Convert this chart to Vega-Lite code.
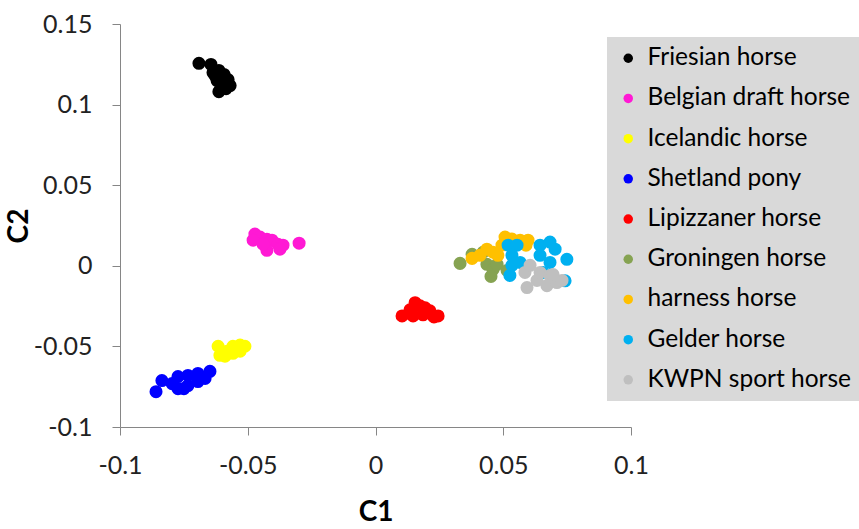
{
  "$schema": "https://vega.github.io/schema/vega-lite/v6.json",
  "width": 511,
  "height": 403,
  "autosize": {"type": "none"},
  "padding": {"left": 120, "top": 24, "right": 228, "bottom": 102},
  "background": "white",
  "config": {
    "view": {"stroke": null},
    "font": "Lato",
    "axis": {
      "grid": false,
      "domainColor": "#868686",
      "tickColor": "#868686",
      "tickSize": 8,
      "labelFont": "Lato",
      "labelFontSize": 25,
      "labelColor": "#222222",
      "titleFont": "Lato",
      "titleFontSize": 28,
      "titleFontWeight": "bold",
      "titleColor": "#000000"
    },
    "legend": {
      "labelFont": "Lato",
      "labelFontSize": 24.5,
      "labelColor": "#000000",
      "labelLimit": 400
    }
  },
  "data": {
    "values": [
      {"C1": -0.0691, "C2": 0.1256, "breed": "Friesian horse"},
      {"C1": -0.0644, "C2": 0.1249, "breed": "Friesian horse"},
      {"C1": -0.0636, "C2": 0.1199, "breed": "Friesian horse"},
      {"C1": -0.0613, "C2": 0.1212, "breed": "Friesian horse"},
      {"C1": -0.0620, "C2": 0.1149, "breed": "Friesian horse"},
      {"C1": -0.0593, "C2": 0.1187, "breed": "Friesian horse"},
      {"C1": -0.0577, "C2": 0.1155, "breed": "Friesian horse"},
      {"C1": -0.0569, "C2": 0.1118, "breed": "Friesian horse"},
      {"C1": -0.0601, "C2": 0.1118, "breed": "Friesian horse"},
      {"C1": -0.0613, "C2": 0.1080, "breed": "Friesian horse"},
      {"C1": -0.0585, "C2": 0.1099, "breed": "Friesian horse"},
      {"C1": -0.0628, "C2": 0.1180, "breed": "Friesian horse"},

      {"C1": -0.0472, "C2": 0.0197, "breed": "Belgian draft horse"},
      {"C1": -0.0452, "C2": 0.0178, "breed": "Belgian draft horse"},
      {"C1": -0.0425, "C2": 0.0165, "breed": "Belgian draft horse"},
      {"C1": -0.0405, "C2": 0.0159, "breed": "Belgian draft horse"},
      {"C1": -0.0382, "C2": 0.0134, "breed": "Belgian draft horse"},
      {"C1": -0.0362, "C2": 0.0128, "breed": "Belgian draft horse"},
      {"C1": -0.0425, "C2": 0.0096, "breed": "Belgian draft horse"},
      {"C1": -0.0374, "C2": 0.0103, "breed": "Belgian draft horse"},
      {"C1": -0.0479, "C2": 0.0159, "breed": "Belgian draft horse"},
      {"C1": -0.0440, "C2": 0.0134, "breed": "Belgian draft horse"},
      {"C1": -0.0299, "C2": 0.0140, "breed": "Belgian draft horse"},

      {"C1": -0.0616, "C2": -0.0499, "breed": "Icelandic horse"},
      {"C1": -0.0609, "C2": -0.0555, "breed": "Icelandic horse"},
      {"C1": -0.0581, "C2": -0.0530, "breed": "Icelandic horse"},
      {"C1": -0.0558, "C2": -0.0499, "breed": "Icelandic horse"},
      {"C1": -0.0530, "C2": -0.0492, "breed": "Icelandic horse"},
      {"C1": -0.0511, "C2": -0.0499, "breed": "Icelandic horse"},
      {"C1": -0.0558, "C2": -0.0543, "breed": "Icelandic horse"},
      {"C1": -0.0530, "C2": -0.0530, "breed": "Icelandic horse"},
      {"C1": -0.0589, "C2": -0.0561, "breed": "Icelandic horse"},

      {"C1": -0.0859, "C2": -0.0781, "breed": "Shetland pony"},
      {"C1": -0.0836, "C2": -0.0712, "breed": "Shetland pony"},
      {"C1": -0.0796, "C2": -0.0731, "breed": "Shetland pony"},
      {"C1": -0.0773, "C2": -0.0687, "breed": "Shetland pony"},
      {"C1": -0.0773, "C2": -0.0762, "breed": "Shetland pony"},
      {"C1": -0.0734, "C2": -0.0680, "breed": "Shetland pony"},
      {"C1": -0.0734, "C2": -0.0743, "breed": "Shetland pony"},
      {"C1": -0.0695, "C2": -0.0668, "breed": "Shetland pony"},
      {"C1": -0.0695, "C2": -0.0718, "breed": "Shetland pony"},
      {"C1": -0.0648, "C2": -0.0655, "breed": "Shetland pony"},
      {"C1": -0.0667, "C2": -0.0699, "breed": "Shetland pony"},
      {"C1": -0.0750, "C2": -0.0762, "breed": "Shetland pony"},

      {"C1": 0.0104, "C2": -0.0311, "breed": "Lipizzaner horse"},
      {"C1": 0.0135, "C2": -0.0273, "breed": "Lipizzaner horse"},
      {"C1": 0.0155, "C2": -0.0229, "breed": "Lipizzaner horse"},
      {"C1": 0.0174, "C2": -0.0248, "breed": "Lipizzaner horse"},
      {"C1": 0.0194, "C2": -0.0261, "breed": "Lipizzaner horse"},
      {"C1": 0.0213, "C2": -0.0279, "breed": "Lipizzaner horse"},
      {"C1": 0.0245, "C2": -0.0311, "breed": "Lipizzaner horse"},
      {"C1": 0.0147, "C2": -0.0311, "breed": "Lipizzaner horse"},
      {"C1": 0.0186, "C2": -0.0304, "breed": "Lipizzaner horse"},
      {"C1": 0.0229, "C2": -0.0317, "breed": "Lipizzaner horse"},

      {"C1": 0.0331, "C2": 0.0015, "breed": "Groningen horse"},
      {"C1": 0.0378, "C2": 0.0071, "breed": "Groningen horse"},
      {"C1": 0.0421, "C2": 0.0084, "breed": "Groningen horse"},
      {"C1": 0.0436, "C2": 0.0009, "breed": "Groningen horse"},
      {"C1": 0.0460, "C2": -0.0023, "breed": "Groningen horse"},
      {"C1": 0.0452, "C2": -0.0066, "breed": "Groningen horse"},
      {"C1": 0.0476, "C2": 0.0009, "breed": "Groningen horse"},
      {"C1": 0.0515, "C2": -0.0029, "breed": "Groningen horse"},

      {"C1": 0.0378, "C2": 0.0046, "breed": "harness horse"},
      {"C1": 0.0409, "C2": 0.0065, "breed": "harness horse"},
      {"C1": 0.0436, "C2": 0.0103, "breed": "harness horse"},
      {"C1": 0.0460, "C2": 0.0084, "breed": "harness horse"},
      {"C1": 0.0495, "C2": 0.0128, "breed": "harness horse"},
      {"C1": 0.0507, "C2": 0.0178, "breed": "harness horse"},
      {"C1": 0.0534, "C2": 0.0166, "breed": "harness horse"},
      {"C1": 0.0566, "C2": 0.0159, "breed": "harness horse"},
      {"C1": 0.0589, "C2": 0.0128, "breed": "harness horse"},
      {"C1": 0.0479, "C2": 0.0065, "breed": "harness horse"},
      {"C1": 0.0597, "C2": 0.0159, "breed": "harness horse"},

      {"C1": 0.0519, "C2": 0.0128, "breed": "Gelder horse"},
      {"C1": 0.0554, "C2": 0.0128, "breed": "Gelder horse"},
      {"C1": 0.0534, "C2": 0.0065, "breed": "Gelder horse"},
      {"C1": 0.0534, "C2": 0.0003, "breed": "Gelder horse"},
      {"C1": 0.0526, "C2": -0.0060, "breed": "Gelder horse"},
      {"C1": 0.0566, "C2": 0.0021, "breed": "Gelder horse"},
      {"C1": 0.0644, "C2": 0.0128, "breed": "Gelder horse"},
      {"C1": 0.0683, "C2": 0.0147, "breed": "Gelder horse"},
      {"C1": 0.0703, "C2": 0.0103, "breed": "Gelder horse"},
      {"C1": 0.0644, "C2": 0.0065, "breed": "Gelder horse"},
      {"C1": 0.0683, "C2": 0.0021, "breed": "Gelder horse"},
      {"C1": 0.0749, "C2": 0.0040, "breed": "Gelder horse"},
      {"C1": 0.0742, "C2": -0.0093, "breed": "Gelder horse"},
      {"C1": 0.0656, "C2": -0.0041, "breed": "Gelder horse"},

      {"C1": 0.0585, "C2": -0.0041, "breed": "KWPN sport horse"},
      {"C1": 0.0593, "C2": -0.0135, "breed": "KWPN sport horse"},
      {"C1": 0.0632, "C2": -0.0091, "breed": "KWPN sport horse"},
      {"C1": 0.0644, "C2": -0.0041, "breed": "KWPN sport horse"},
      {"C1": 0.0683, "C2": -0.0060, "breed": "KWPN sport horse"},
      {"C1": 0.0671, "C2": -0.0123, "breed": "KWPN sport horse"},
      {"C1": 0.0710, "C2": -0.0104, "breed": "KWPN sport horse"},
      {"C1": 0.0730, "C2": -0.0091, "breed": "KWPN sport horse"},
      {"C1": 0.0605, "C2": 0.0003, "breed": "KWPN sport horse"},
      {"C1": 0.0695, "C2": -0.0054, "breed": "KWPN sport horse"}
    ]
  },
  "mark": {"type": "point", "filled": true, "size": 170, "opacity": 1, "shape": "circle"},
  "encoding": {
    "x": {
      "field": "C1",
      "type": "quantitative",
      "scale": {"domain": [-0.1, 0.1], "nice": false, "zero": false},
      "axis": {
        "title": "C1",
        "values": [-0.1, -0.05, 0, 0.05, 0.1],
        "labelExpr": "toString(datum.value)",
        "labelPadding": 18,
        "titlePadding": 20,
        "labelFlush": false
      }
    },
    "y": {
      "field": "C2",
      "type": "quantitative",
      "scale": {"domain": [-0.1, 0.15], "nice": false, "zero": false},
      "axis": {
        "title": "C2",
        "values": [-0.1, -0.05, 0, 0.05, 0.1, 0.15],
        "labelExpr": "toString(datum.value)",
        "labelPadding": 20,
        "titlePadding": 0,
        "labelFlush": false,
        "titleAngle": 270
      }
    },
    "color": {
      "field": "breed",
      "type": "nominal",
      "scale": {
        "domain": ["Friesian horse", "Belgian draft horse", "Icelandic horse", "Shetland pony", "Lipizzaner horse", "Groningen horse", "harness horse", "Gelder horse", "KWPN sport horse"],
        "range": ["#000000", "#ff19d4", "#ffff00", "#0000ff", "#ff0000", "#86a352", "#ffc000", "#00b0f0", "#bfbfbf"]
      },
      "legend": {
        "title": null,
        "orient": "none",
        "legendX": 487,
        "legendY": 13,
        "fillColor": "#d9d9d9",
        "padding": 9,
        "rowPadding": 15.2,
        "symbolSize": 90,
        "symbolType": "circle",
        "symbolOpacity": 1,
        "labelOffset": 7
      }
    }
  }
}
